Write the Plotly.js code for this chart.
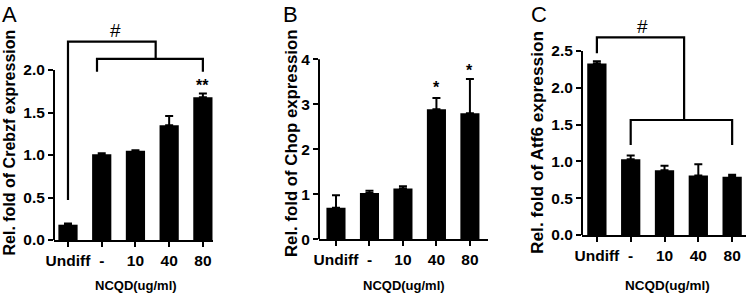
<!DOCTYPE html>
<html><head><meta charset="utf-8">
<script src="https://cdn.plot.ly/plotly-3.0.1.min.js"></script>
<style>html,body{margin:0;padding:0;background:#fff}</style>
</head><body><div id="chart" style="width:750px;height:293px"></div>
<script>
// ---- data ----
const categories = ['Undiff', '-', '10', '40', '80'];
const crebzfMean = [0.18, 1.01, 1.05, 1.35, 1.68];
const crebzfErr  = [0.015, 0.012, 0.006, 0.11, 0.045];
const chopMean   = [0.70, 1.03, 1.13, 2.89, 2.80];
const chopErr    = [0.28, 0.05, 0.05, 0.25, 0.76];
const atf6Mean   = [2.33, 1.03, 0.88, 0.81, 0.79];
const atf6Err    = [0.03, 0.05, 0.06, 0.15, 0.03];
const yTicksA = [0, 0.5, 1.0, 1.5, 2.0];
const yTicksB = [0, 1, 2, 3, 4];
const yTicksC = [0, 0.5, 1.0, 1.5, 2.0, 2.5];
const xTitle = 'NCQD(ug/ml)';
const yTitles = ['Rel. fold of Crebzf expression', 'Rel. fold of Chop expression', 'Rel. fold of Atf6 expression'];
const panelLabels = ['A', 'B', 'C'];
// significance brackets (category index, value)
const bracketsA = [[[0,0.47],[0,2.333],[2.6,2.333],[2.6,2.13]], [[0.86,1.98],[0.86,2.13],[4,2.13],[4,1.98]]];
const bracketsC = [[[0,2.47],[0,2.686],[2.58,2.686],[2.58,1.5625]], [[1,1.223],[1,1.5625],[4,1.5625],[4,1.223]]];
const marksA = [{x:1.42, y:2.48, t:'#'}, {x:4, y:1.86, t:'**'}];
const marksB = [{x:3, y:3.47, t:'*'}, {x:4, y:3.84, t:'*'}];
const marksC = [{x:1.36, y:2.85, t:'#'}];

// ---- layout helpers ----
const W = 750, H = 293;
const FONT = '"Liberation Sans", Arial, Helvetica, sans-serif';
const idx = categories.map((c, i) => i);
function ydom(bottomPx, ppu, ymax) { return [1 - bottomPx / H, 1 - (bottomPx - ppu * ymax) / H]; }

const panels = [
  {mean: crebzfMean, err: crebzfErr, xpx: [54, 213], xr: [-0.415, 4.3], yb: 240, ppu: 85, ymax: 2.6, top: 2.0, ticks: yTicksA, fmt: '.1f', br: bracketsA, marks: marksA,
   ytx: 9.5, tfs: 16, ltx: 9.5, xtx: 136, xfs: 13},
  {mean: chopMean, err: chopErr, xpx: [319, 488], xr: [-0.507, 4.54], yb: 239.3, ppu: 45, ymax: 4.9, top: 4, ticks: yTicksB, fmt: 'd', br: [], marks: marksB,
   ytx: 292, tfs: 16.8, ltx: 290, xtx: 404, xfs: 13},
  {mean: atf6Mean, err: atf6Err, xpx: [582, 746], xr: [-0.44, 4.41], yb: 235, ppu: 73.6, ymax: 2.9, top: 2.5, ticks: yTicksC, fmt: '.1f', br: bracketsC, marks: marksC,
   ytx: 537, tfs: 17.3, ltx: 539, xtx: 667, xfs: 13.5}
];

const data = [];
const layout = {
  width: W, height: H, autosize: false, showlegend: false,
  margin: {l: 0, r: 0, t: 0, b: 0, pad: 0},
  paper_bgcolor: '#fff', plot_bgcolor: '#fff',
  font: {family: FONT, color: '#000'},
  shapes: [], annotations: []
};

panels.forEach((p, k) => {
  const n = k === 0 ? '' : String(k + 1);
  data.push({
    type: 'bar', x: idx, y: p.mean, xaxis: 'x' + n, yaxis: 'y' + n,
    width: 0.57, marker: {color: '#000', line: {width: 0}},
    error_y: {type: 'data', symmetric: false, array: p.err, arrayminus: p.err.map(() => 0),
              color: '#000', thickness: 2, width: 4},
    hoverinfo: 'none'
  });
  layout['xaxis' + n] = {
    domain: [p.xpx[0] / W, p.xpx[1] / W], range: p.xr, anchor: 'y' + n,
    tickvals: idx, ticktext: categories, ticks: 'outside', ticklen: 5, tickwidth: 2, tickcolor: '#000',
    showline: true, linewidth: 2, linecolor: '#000', showgrid: false, zeroline: false,
    tickfont: {family: FONT, size: 15.5, weight: 700, color: '#000'}, fixedrange: true
  };
  layout['yaxis' + n] = {
    domain: ydom(p.yb, p.ppu, p.ymax), range: [0, p.ymax], anchor: 'x' + n,
    tickvals: p.ticks, tickformat: p.fmt, ticks: 'outside', ticklen: 5, tickwidth: 2, tickcolor: '#000',
    showline: false, showgrid: false, zeroline: false,
    tickfont: {family: FONT, size: 15.5, weight: 700, color: '#000'}, fixedrange: true
  };
  // y axis line only up to last tick
  layout.shapes.push({type: 'line', xref: 'x' + n + ' domain', yref: 'y' + n, x0: 0, x1: 0, y0: 0, y1: p.top,
                      line: {color: '#000', width: 2}});
  p.br.forEach(b => {
    const path = b.map((pt, i) => (i ? 'L' : 'M') + pt[0] + ',' + pt[1]).join(' ');
    layout.shapes.push({type: 'path', xref: 'x' + n, yref: 'y' + n, path: path, line: {color: '#000', width: 2.2}});
  });
  p.marks.forEach(m => {
    const isHash = m.t === '#';
    layout.annotations.push({xref: 'x' + n, yref: 'y' + n, x: m.x, y: m.y, text: m.t, showarrow: false,
      xanchor: 'center', yanchor: 'middle', yshift: isHash ? -1 : -4,
      font: {family: FONT, size: isHash ? 19 : 16, weight: isHash ? 400 : 700, color: '#000'}});
  });
  // y title
  layout.annotations.push({xref: 'paper', yref: 'paper', x: p.ytx / W, y: 1 - 143 / H, text: yTitles[k],
    textangle: -90, showarrow: false, xanchor: 'center', yanchor: 'middle',
    font: {family: FONT, size: p.tfs, weight: 700, color: '#000'}});
  // x title
  layout.annotations.push({xref: 'paper', yref: 'paper', x: p.xtx / W, y: 1 - 285 / H, text: xTitle,
    showarrow: false, xanchor: 'center', yanchor: 'middle',
    font: {family: FONT, size: p.xfs, weight: 700, color: '#000'}});
  // panel letter
  layout.annotations.push({xref: 'paper', yref: 'paper', x: p.ltx / W, y: 1 - 15 / H, text: panelLabels[k],
    showarrow: false, xanchor: 'center', yanchor: 'middle',
    font: {family: FONT, size: 22, weight: 400, color: '#000'}});
});

Plotly.newPlot('chart', data, layout, {staticPlot: true, displayModeBar: false});
</script></body></html>
